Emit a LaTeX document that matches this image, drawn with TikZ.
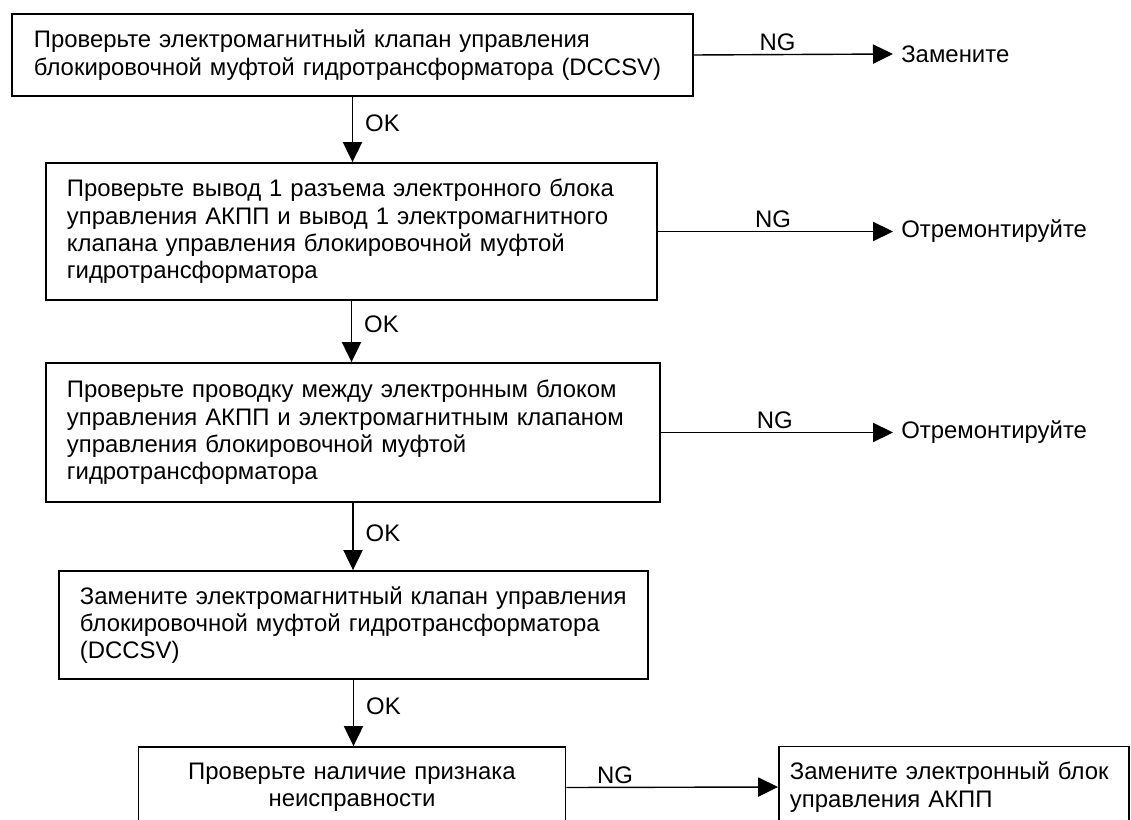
\documentclass[tikz,border=0pt]{standalone}
\usepackage{fontspec}
\setmainfont{Liberation Sans}
\usetikzlibrary{arrows.meta}

\begin{document}
\begin{tikzpicture}[
  x=0.025cm,y=-0.025cm,
  every node/.style={font=\fontsize{17}{19.4}\selectfont},
  chkbox/.style={draw,line width=1.3pt,align=left,inner xsep=0.525cm,inner ysep=2pt},
  arr/.style={-{Triangle[length=0.5cm,width=0.48cm]},line width=1pt},
  lbl/.style={inner sep=2pt},
  okl/.style={right,inner xsep=0.3cm,inner ysep=2pt},
  result/.style={anchor=west,inner sep=0.2cm},
]
\clip (0,0) rectangle (1131,820);

% === Main column ===
\node[chkbox,inner xsep=0.55cm,text width=15.925cm,minimum height=2.05cm] (chk_valve) at (352.5,55)
  {Проверьте электромагнитный клапан управления\\блокировочной муфтой гидротрансформатора (DCCSV)};
\node[chkbox,text width=14.225cm,minimum height=3.425cm] (chk_pin) at (351.5,231.5)
  {Проверьте вывод 1 разъема электронного блока\\управления АКПП и вывод 1 электромагнитного\\клапана управления блокировочной муфтой\\гидротрансформатора};
\node[chkbox,text width=14.3cm,minimum height=3.475cm] (chk_wire) at (353,432.5)
  {Проверьте проводку между электронным блоком\\управления АКПП и электромагнитным клапаном\\управления блокировочной муфтой\\гидротрансформатора};
\node[chkbox,text width=13.675cm,minimum height=2.7cm] (rep_valve) at (353.5,625)
  {Замените электромагнитный клапан управления\\блокировочной муфтой гидротрансформатора\\(DCCSV)};
\node[chkbox,align=center,text width=9.625cm,minimum height=2.025cm] (chk_sympt) at (352,787.5)
  {Проверьте наличие признака\\неисправности};

% OK arrows
\draw[arr] (chk_valve.south) -- node[okl,pos=0.4]{OK} (chk_valve.south |- chk_pin.north);
\draw[arr] (chk_pin.south) -- node[okl,pos=0.38]{OK} (chk_pin.south |- chk_wire.north);
\draw[arr] (chk_wire.south) -- node[okl,pos=0.45]{OK} (chk_wire.south |- rep_valve.north);
\draw[arr] (rep_valve.south) -- node[okl,pos=0.4]{OK} (rep_valve.south |- chk_sympt.north);

% === Right side: NG results ===
\node[result] (res_repl) at (893,54) {Замените};
\node[result] (res_fix1) at (893,231.5) {Отремонтируйте};
\node[result] (res_fix2) at (893,432.5) {Отремонтируйте};
\node[chkbox,inner xsep=0.275cm,text width=8.2cm,minimum height=2.025cm] (rep_ecu) at (954,787)
  {Замените электронный блок\\управления АКПП};

% NG arrows
\draw[arr] (chk_valve.east) -- node[lbl,above,pos=0.42]{NG} (res_repl.west);
\draw[arr] (chk_pin.east) -- node[lbl,above,pos=0.49]{NG} (res_fix1.west);
\draw[arr] (chk_wire.east) -- node[lbl,above,pos=0.49]{NG} (res_fix2.west);
\draw[arr] (chk_sympt.east) -- node[lbl,above,pos=0.23]{NG} (rep_ecu.west);

\end{tikzpicture}
\end{document}
